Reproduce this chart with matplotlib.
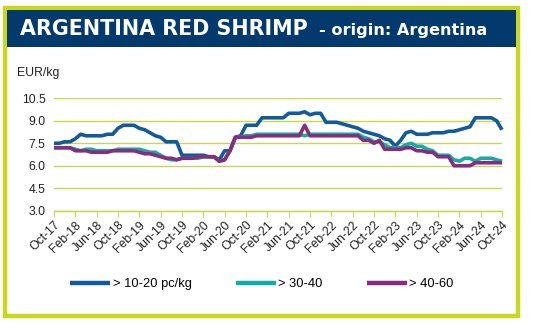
import matplotlib.pyplot as plt
from matplotlib.patches import Rectangle
import numpy as np
import pandas as pd

# monthly prices, Oct-17 .. Oct-24 (EUR/kg)
size_10_20 = [7.5, 7.5, 7.6, 7.6, 7.8, 8.1, 8.0, 8.0, 8.0, 8.0, 8.1, 8.1,
              8.5, 8.7, 8.7, 8.7, 8.5, 8.4, 8.2, 8.0, 7.9, 7.6, 7.6, 7.6,
              6.7, 6.7, 6.7, 6.7, 6.7, 6.6, 6.6, 6.4, 7.0, 7.0, 7.9, 8.0,
              8.7, 8.7, 8.7, 9.2, 9.2, 9.2, 9.2, 9.2, 9.5, 9.5, 9.5, 9.6,
              9.4, 9.5, 9.5, 8.9, 8.9, 8.9, 8.8, 8.7, 8.6, 8.5, 8.3, 8.2,
              8.1, 8.0, 7.8, 7.7, 7.3, 7.7, 8.2, 8.3, 8.1, 8.1, 8.1, 8.2,
              8.2, 8.2, 8.3, 8.3, 8.4, 8.5, 8.6, 9.2, 9.2, 9.2, 9.2, 9.0,
              8.4]
size_30_40 = [7.2, 7.2, 7.2, 7.2, 7.1, 7.0, 7.1, 7.1, 7.0, 7.0, 7.0, 7.0,
              7.1, 7.1, 7.1, 7.1, 7.1, 7.0, 6.9, 6.9, 6.7, 6.5, 6.4, 6.4,
              6.5, 6.5, 6.5, 6.5, 6.6, 6.6, 6.6, 6.3, 6.4, 7.0, 7.9, 7.9,
              8.0, 8.0, 8.1, 8.1, 8.1, 8.1, 8.1, 8.1, 8.1, 8.1, 8.1, 8.0,
              8.1, 8.1, 8.1, 8.1, 8.1, 8.1, 8.1, 8.1, 8.1, 8.1, 7.9, 7.8,
              7.6, 7.6, 7.4, 7.2, 7.2, 7.2, 7.4, 7.5, 7.3, 7.3, 7.1, 7.0,
              6.7, 6.7, 6.7, 6.4, 6.3, 6.5, 6.5, 6.3, 6.5, 6.5, 6.5, 6.4,
              6.3]
size_40_60 = [7.2, 7.2, 7.2, 7.2, 7.0, 7.0, 7.0, 6.9, 6.9, 6.9, 6.9, 7.0,
              7.0, 7.0, 7.0, 7.0, 6.9, 6.8, 6.8, 6.7, 6.6, 6.5, 6.5, 6.4,
              6.5, 6.5, 6.5, 6.6, 6.6, 6.6, 6.6, 6.3, 6.4, 7.0, 7.9, 7.9,
              7.9, 7.9, 8.0, 8.0, 8.0, 8.0, 8.0, 8.0, 8.0, 8.0, 8.0, 8.7,
              8.0, 8.0, 8.0, 8.0, 8.0, 8.0, 8.0, 8.0, 8.0, 8.0, 7.7, 7.7,
              7.5, 7.7, 7.1, 7.1, 7.1, 7.1, 7.2, 7.2, 7.0, 7.0, 6.9, 6.9,
              6.6, 6.6, 6.6, 6.0, 6.0, 6.0, 6.0, 6.2, 6.2, 6.2, 6.2, 6.2,
              6.2]
series_labels = ["> 10-20 pc/kg", "> 30-40", "> 40-60"]
y_ticks = [3.0, 4.5, 6.0, 7.5, 9.0, 10.5]

months = pd.date_range("2017-10-01", periods=len(size_10_20), freq="MS")
month_labels = [m.strftime("%b-%y") for m in months]

colors = ["#125A9C", "#14ADA5", "#872C7E"]
grid_c = "#C8D74E"
frame_c = "#C9D81E"
navy = "#023A6E"

plt.rcParams['font.family'] = ['Liberation Sans', 'DejaVu Sans']

fig = plt.figure(figsize=(5.51, 3.24), dpi=100)
W, H = 551, 324

# outer frame and title band (behind the axes)
fig.patches.append(Rectangle((5 / W, 1 - 316 / H), 513 / W, 308 / H, transform=fig.transFigure,
                             facecolor="white", edgecolor=frame_c, linewidth=3.2, zorder=-2))
fig.patches.append(Rectangle((7 / W, 1 - 47 / H), 509 / W, 37 / H, transform=fig.transFigure,
                             facecolor=navy, edgecolor="none", zorder=-1))
t1 = fig.text(20 / W, 1 - 29 / H, "ARGENTINA RED SHRIMP", color="white", fontsize=14.9,
              fontweight="bold", family="DejaVu Sans", va="center")
fig.canvas.draw()
bb = t1.get_window_extent()
fig.text(bb.x1 / W + 11 / W, 1 - 30 / H, "- origin: Argentina", color="white", fontsize=11.6,
         fontweight="bold", family="DejaVu Sans", va="center")

ax = fig.add_axes([54 / W, 1 - 210.7 / H, 448 / W, 112.4 / H])
ax.patch.set_alpha(0)
x = np.arange(len(months))
for vals, c, lab in zip([size_10_20, size_30_40, size_40_60], colors, series_labels):
    ax.plot(x, vals, color=c, lw=2.6, label=lab, clip_on=False, solid_capstyle="butt")

ax.set_xlim(0, len(months) - 1)
ax.set_ylim(3, 10.5)
ax.set_yticks(y_ticks)
ax.set_yticklabels([f"{v:.1f}" for v in y_ticks], fontsize=8.8, color="#222222")
ax.set_xticks(x[::4])
ax.set_xticklabels(month_labels[::4], rotation=45, ha="right", rotation_mode="anchor",
                   fontsize=8.8, color="#222222")
ax.yaxis.grid(True, color=grid_c, lw=1)
ax.set_axisbelow(True)
for s in ["top", "right", "left"]:
    ax.spines[s].set_visible(False)
ax.spines["bottom"].set_color(grid_c)
ax.spines["bottom"].set_linewidth(1)
ax.tick_params(axis="y", length=0, pad=6)
ax.tick_params(axis="x", length=4, color=grid_c, pad=2)

fig.text(17 / W, 1 - 73 / H, "EUR/kg", fontsize=8.8, color="#222222", va="center")

leg = fig.legend(loc="center", bbox_to_anchor=(262 / W, 1 - 284 / H), ncol=3, frameon=False,
                 fontsize=9.3, handlelength=3.1, handletextpad=0.2, columnspacing=3.4)
for h in leg.legend_handles:
    h.set_linewidth(3.2)

fig.savefig("out.png", dpi=100)
